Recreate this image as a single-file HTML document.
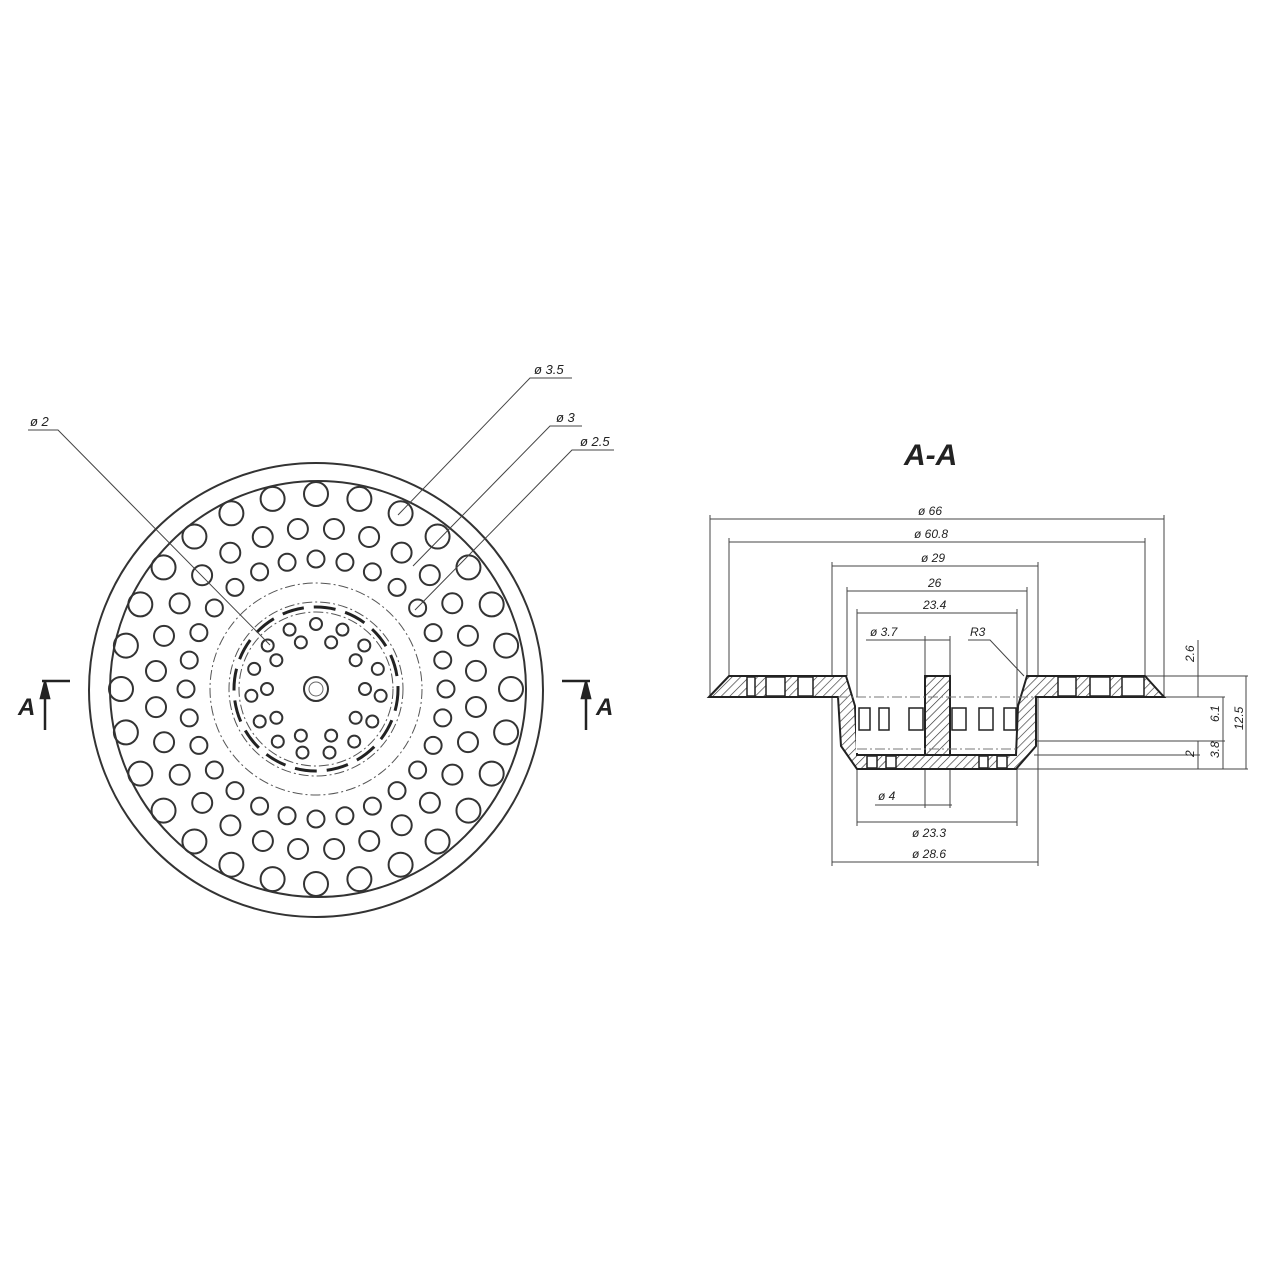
<!DOCTYPE html>
<html><head><meta charset="utf-8"><style>
html,body{margin:0;padding:0;background:#fff;}
svg{display:block;}
text{font-family:"Liberation Sans",sans-serif;font-style:italic;fill:#222;}
</style></head><body>
<svg width="1280" height="1280" viewBox="0 0 1280 1280" xmlns="http://www.w3.org/2000/svg">
<defs>
<pattern id="h" patternUnits="userSpaceOnUse" width="6" height="6" patternTransform="rotate(45)">
<rect width="6" height="6" fill="#fff"/><line x1="0" y1="0" x2="0" y2="6" stroke="#333" stroke-width="1.3"/>
</pattern>
</defs>
<g fill="none" stroke="#333" stroke-width="2">
<circle cx="316" cy="690" r="227"/>
<circle cx="318" cy="689" r="208"/>
</g>
<g id="holes" fill="none" stroke="#333" stroke-width="2"></g>
<g fill="none" stroke="#555" stroke-width="1" stroke-dasharray="10,3,2,3">
<circle cx="316" cy="689" r="106"/>
<circle cx="316" cy="689" r="87"/>
<circle cx="316" cy="689" r="77"/>
</g>
<circle cx="316" cy="689" r="82" fill="none" stroke="#222" stroke-width="3" stroke-dasharray="22,10"/>
<circle cx="316" cy="689" r="12" fill="none" stroke="#333" stroke-width="2"/>
<circle cx="316" cy="689" r="7" fill="none" stroke="#666" stroke-width="1"/>
<!-- leaders -->
<g stroke="#444" stroke-width="1" fill="none">
<polyline points="28,430 58,430 270,645"/>
<polyline points="572,378 530,378 398,515"/>
<polyline points="582,426 550,426 413,566"/>
<polyline points="614,450 572,450 415,610"/>
</g>
<text x="30" y="426" font-size="13">ø 2</text>
<text x="534" y="374" font-size="13">ø 3.5</text>
<text x="556" y="422" font-size="13">ø 3</text>
<text x="580" y="446" font-size="13">ø 2.5</text>
<!-- section marks -->
<g stroke="#222" stroke-width="2.5" fill="#222">
<line x1="42" y1="681" x2="70" y2="681"/>
<line x1="45" y1="686" x2="45" y2="730"/>
<polygon points="45,682 41,698 49,698"/>
<line x1="562" y1="681" x2="590" y2="681"/>
<line x1="586" y1="686" x2="586" y2="730"/>
<polygon points="586,682 582,698 590,698"/>
</g>
<text x="18" y="715" font-size="24" font-weight="bold">A</text>
<text x="596" y="715" font-size="24" font-weight="bold">A</text>
<!-- Section view -->
<text x="904" y="465" font-size="30" font-weight="bold">A-A</text>
<g stroke="#444" stroke-width="1" fill="none">
<line x1="710" y1="519" x2="1164" y2="519"/><line x1="710" y1="515" x2="710" y2="697"/><line x1="1164" y1="515" x2="1164" y2="697"/>
<line x1="729" y1="542" x2="1145" y2="542"/><line x1="729" y1="538" x2="729" y2="676"/><line x1="1145" y1="538" x2="1145" y2="676"/>
<line x1="832" y1="566" x2="1038" y2="566"/><line x1="832" y1="562" x2="832" y2="866"/><line x1="1038" y1="562" x2="1038" y2="866"/>
<line x1="847" y1="591" x2="1027" y2="591"/><line x1="847" y1="587" x2="847" y2="676"/><line x1="1027" y1="587" x2="1027" y2="676"/>
<line x1="857" y1="613" x2="1017" y2="613"/><line x1="857" y1="609" x2="857" y2="826"/><line x1="1017" y1="609" x2="1017" y2="826"/>
<line x1="866" y1="640" x2="950" y2="640"/><line x1="925" y1="636" x2="925" y2="808"/><line x1="950" y1="636" x2="950" y2="808"/>
<polyline points="968,640 990,640 1024,676"/>
<line x1="875" y1="805" x2="952" y2="805"/>
<line x1="857" y1="822" x2="1017" y2="822"/>
<line x1="832" y1="862" x2="1038" y2="862"/>
<!-- right dims -->
<line x1="1145" y1="676" x2="1248" y2="676"/>
<line x1="1164" y1="697" x2="1225" y2="697"/>
<line x1="1036" y1="741" x2="1225" y2="741"/>
<line x1="1034" y1="755" x2="1200" y2="755"/>
<line x1="1016" y1="769" x2="1248" y2="769"/>
<line x1="1198" y1="640" x2="1198" y2="697"/>
<line x1="1198" y1="741" x2="1198" y2="769"/>
<line x1="1223" y1="697" x2="1223" y2="769"/>
<line x1="1246" y1="676" x2="1246" y2="769"/>
</g>
<g font-size="12">
<text x="918" y="515">ø 66</text>
<text x="914" y="538">ø 60.8</text>
<text x="921" y="562">ø 29</text>
<text x="928" y="587">26</text>
<text x="923" y="609">23.4</text>
<text x="870" y="636">ø 3.7</text>
<text x="970" y="636">R3</text>
<text x="878" y="800">ø 4</text>
<text x="912" y="837">ø 23.3</text>
<text x="912" y="858">ø 28.6</text>
<text transform="translate(1194,662) rotate(-90)">2.6</text>
<text transform="translate(1219,722) rotate(-90)">6.1</text>
<text transform="translate(1243,730) rotate(-90)">12.5</text>
<text transform="translate(1219,758) rotate(-90)">3.8</text>
<text transform="translate(1194,757) rotate(-90)">2</text>
</g>
<!-- body -->
<g stroke="#222" stroke-width="2" fill="url(#h)">
<polygon points="709,697 729,676 829,676 846,676 855,706 857,753 857,755 925,755 925,676 950,676 950,755 1016,755 1018,706 1027,676 1145,676 1164,697 1036,697 1036,746 1016,769 857,769 841,746 838,697"/>
</g>
<g fill="#fff" stroke="#222" stroke-width="1.5">
<rect x="747" y="677" width="8" height="19"/><rect x="766" y="677" width="19" height="19"/><rect x="798" y="677" width="15" height="19"/>
<rect x="1058" y="677" width="18" height="19"/><rect x="1090" y="677" width="20" height="19"/><rect x="1122" y="677" width="22" height="19"/>
<rect x="856" y="697" width="68" height="56" stroke="none"/>
<rect x="951" y="697" width="64" height="56" stroke="none"/>
<rect x="867" y="756" width="10" height="12"/><rect x="886" y="756" width="10" height="12"/>
<rect x="979" y="756" width="9" height="12"/><rect x="997" y="756" width="10" height="12"/>
<rect x="859" y="708" width="11" height="22"/><rect x="879" y="708" width="10" height="22"/><rect x="909" y="708" width="14" height="22"/>
<rect x="952" y="708" width="14" height="22"/><rect x="979" y="708" width="14" height="22"/><rect x="1004" y="708" width="12" height="22"/>
</g>
<g stroke="#222" stroke-width="2">
<line x1="857" y1="755" x2="1016" y2="755"/>
<line x1="925" y1="676" x2="925" y2="755"/><line x1="950" y1="676" x2="950" y2="755"/>
</g>
<g stroke="#777" stroke-width="1" stroke-dasharray="10,3,2,3">
<line x1="838" y1="697" x2="1036" y2="697"/>
<line x1="857" y1="749" x2="1016" y2="749"/>
</g>
</svg>
<script>
(function(){
var g=document.getElementById('holes'),ns='http://www.w3.org/2000/svg',cx=316,cy=689;
function ring(r,n,rad,off){for(var i=0;i<n;i++){var a=(off+i*360/n)*Math.PI/180;var c=document.createElementNS(ns,'circle');c.setAttribute('cx',cx+r*Math.sin(a));c.setAttribute('cy',cy-r*Math.cos(a));c.setAttribute('r',rad);g.appendChild(c);}}
ring(195,28,12,0);ring(161,28,10,6.4);ring(130,28,8.5,0);ring(65,15,6,0);ring(49,10,6,18);
})();
</script>
</body></html>
